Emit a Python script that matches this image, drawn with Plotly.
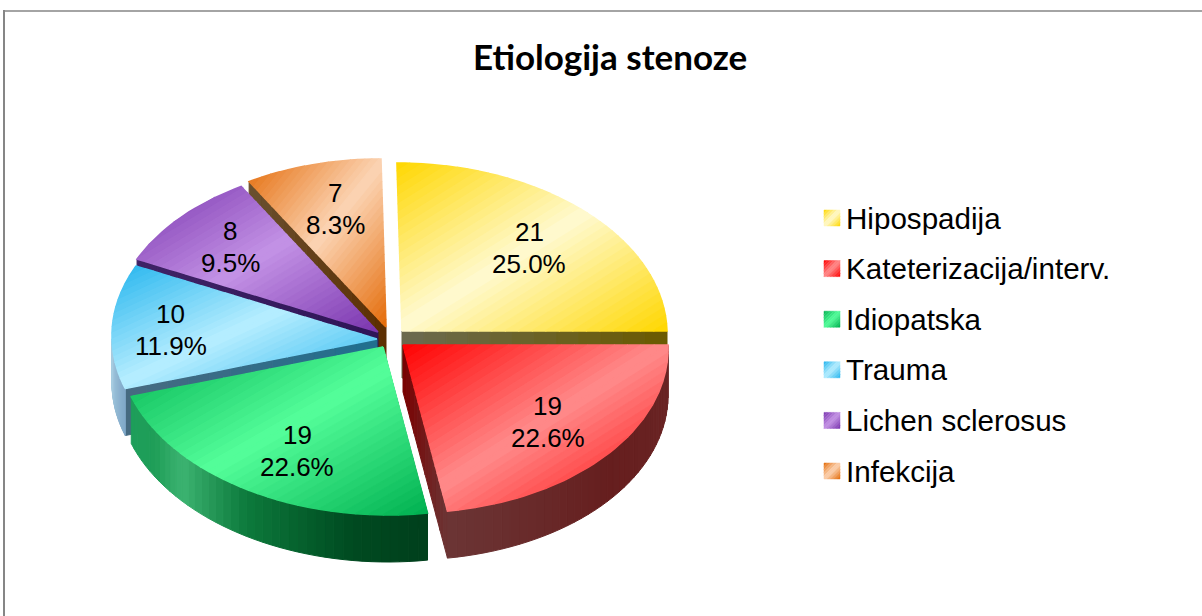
import math
import plotly.graph_objects as go

# ---------- data ----------
CATEGORIES = ["Hipospadija", "Kateterizacija/interv.", "Idiopatska", "Trauma", "Lichen sclerosus", "Infekcija"]
VALUES = [21, 19, 19, 10, 8, 7]
TITLE = "Etiologija stenoze"

# ---------- style / geometry of the 3-D projection (canvas pixels) ----------
W, H = 1202, 616
RX, RY, DEPTH, SKEW = 265, 168, 47, 0.03
APEX = [(402, 331), (403, 345), (383, 347), (377, 339), (378, 332), (386, 327)]
LABEL_F = [(0.68, 0.70), (0.72, 0.70), (0.61, 0.73), (0.78, 0.70), (0.76, 0.74), (0.74, 0.73)]
TOP_BASE = ["#FFD700", "#FF0000", "#00B050", "#25B5EE", "#7A35AE", "#E46C0A"]
TOP_LIGHT = ["#FFFAD2", "#FF8C8C", "#55FF9B", "#B8EEFF", "#C493E6", "#FCD5B5"]
EDGE_WALL = [("#6B6A50", "#6B5A00"), ("#7A0000", "#6B3535"), ("#005025", "#005025"),
             ("#1F6F8F", "#486A80"), ("#2E1457", "#3F2366"), ("#5C2E00", "#6A5030")]
OUTER_WALL = [
    [(0, "#6B5A00"), (1, "#6B5A00")],
    [(0, "#6B2626"), (0.5, "#661E1E"), (1, "#6B3535")],
    [(0, "#003F1C"), (0.2, "#004A20"), (0.5, "#0C7A3C"), (0.72, "#3CB371"), (0.85, "#1F9E58"), (1, "#1D9E5A")],
    [(0, "#7FA8C8"), (1, "#A8CCE0")],
    [(0, "#3F2366"), (1, "#3F2366")],
    [(0, "#6A5030"), (1, "#6A5030")],
]
DRAW_ORDER = [0, 5, 4, 3, 1, 2]
BANDS = 40
SEAM = 1.6
FONT = "Liberation Sans"
LEG_X, LEG_Y0, LEG_DY, LEG_S = 824, 218, 50.6, 16
LINE_GAP = 32


def rgb(h):
    return tuple(int(h[i:i + 2], 16) for i in (1, 3, 5))


def mix(stops, t):
    for (a, ca), (b, cb) in zip(stops, stops[1:]):
        if t <= b:
            f = (t - a) / (b - a) if b > a else 0
            x, y = rgb(ca), rgb(cb)
            return "rgb(%d,%d,%d)" % tuple(round(x[k] + (y[k] - x[k]) * f) for k in range(3))
    return stops[-1][1]


def clip(poly, keep):
    """Half-plane clip; keep(p) returns a signed distance, >=0 is inside."""
    out = []
    for i, p in enumerate(poly):
        q = poly[(i + 1) % len(poly)]
        dp, dq = keep(p), keep(q)
        if dp >= 0:
            out.append(p)
        if (dp >= 0) != (dq >= 0):
            f = dp / (dp - dq)
            out.append((p[0] + (q[0] - p[0]) * f, p[1] + (q[1] - p[1]) * f))
    return out


fig = go.Figure()


def add_poly(pts, color, seam=SEAM):
    xs = [p[0] for p in pts] + [pts[0][0]]
    ys = [p[1] for p in pts] + [pts[0][1]]
    fig.add_trace(go.Scatter(x=xs, y=ys, mode="lines", fill="toself", fillcolor=color,
                             line=dict(color=color, width=seam), hoverinfo="skip", showlegend=False))


def diagonal_fill(poly, base, light, bands=BANDS, seam=SEAM):
    """45-degree bounding-box linear gradient: base -> light -> base."""
    x0, x1 = min(p[0] for p in poly), max(p[0] for p in poly)
    y0, y1 = min(p[1] for p in poly), max(p[1] for p in poly)
    tf = lambda p: ((p[0] - x0) / (x1 - x0) + (p[1] - y0) / (y1 - y0)) / 2
    stops = [(0, base), (0.5, light), (1, base)]
    for b in range(bands):
        a0, a1 = b / bands, (b + 1) / bands
        piece = clip(poly, lambda p: tf(p) - a0)
        if piece:
            piece = clip(piece, lambda p: a1 - tf(p))
        if len(piece) >= 3:
            add_poly(piece, mix(stops, (a0 + a1) / 2), seam)


def project(apex, theta):
    dx, dy = RX * math.sin(theta), -RY * math.cos(theta)
    return (apex[0] + dx + SKEW * dy, apex[1] + dy)


total = sum(VALUES)
angles, acc = [], 0
for v in VALUES:
    angles.append((acc / total * 2 * math.pi, (acc + v) / total * 2 * math.pi))
    acc += v

for i in DRAW_ORDER:
    a0, a1 = angles[i]
    apex = APEX[i]
    # wall along the slice's visible cut edge
    edge_angle = a1 if i in (0, 1) else a0
    end = project(apex, edge_angle)
    c0, c1 = EDGE_WALL[i]
    for k in range(12):
        f0, f1 = k / 12, (k + 1) / 12
        p0 = (apex[0] + (end[0] - apex[0]) * f0, apex[1] + (end[1] - apex[1]) * f0)
        p1 = (apex[0] + (end[0] - apex[0]) * f1, apex[1] + (end[1] - apex[1]) * f1)
        add_poly([p0, p1, (p1[0], p1[1] + DEPTH), (p0[0], p0[1] + DEPTH)],
                 mix([(0, c0), (1, c1)], (f0 + f1) / 2), 1.0)
    # outer rim wall (only the part facing the viewer)
    lo, hi = max(a0, math.pi / 2), min(a1, 3 * math.pi / 2)
    if hi > lo:
        n = 40
        for k in range(n):
            t0 = lo + (hi - lo) * k / n
            t1 = lo + (hi - lo) * (k + 1) / n
            p0, p1 = project(apex, t0), project(apex, t1)
            add_poly([p0, p1, (p1[0], p1[1] + DEPTH), (p0[0], p0[1] + DEPTH)],
                     mix(OUTER_WALL[i], (k + 0.5) / n), 1.0)
    # top surface
    steps = max(8, int((a1 - a0) / 0.03))
    poly = [apex] + [project(apex, a0 + (a1 - a0) * k / steps) for k in range(steps + 1)]
    diagonal_fill(poly, TOP_BASE[i], TOP_LIGHT[i])

annotations = []
for i, v in enumerate(VALUES):
    mid = sum(angles[i]) / 2
    fx, fy = LABEL_F[i]
    cx = APEX[i][0] + fx * RX * math.sin(mid)
    cy = APEX[i][1] - fy * RY * math.cos(mid)
    for text, off in ((f"{v}", -LINE_GAP / 2), (f"{v / total * 100:.1f}%", LINE_GAP / 2)):
        annotations.append(dict(x=cx, y=cy + off, xref="x", yref="y", showarrow=False,
                                text=text, font=dict(family=FONT, size=26, color="#000000")))

# legend: gradient swatches with real text
for i, name in enumerate(CATEGORIES):
    yc = LEG_Y0 + i * LEG_DY
    s = LEG_S / 2
    square = [(LEG_X, yc - s), (LEG_X + LEG_S, yc - s), (LEG_X + LEG_S, yc + s), (LEG_X, yc + s)]
    diagonal_fill(square, TOP_BASE[i], TOP_LIGHT[i], bands=10, seam=0.5)
    annotations.append(dict(x=LEG_X + 20, y=yc, xref="x", yref="y", showarrow=False,
                            xanchor="left", yanchor="middle", text=name,
                            font=dict(family=FONT, size=29.6, color="#000000")))

annotations.append(dict(x=610, y=56, xref="x", yref="y", showarrow=False, text=f"<b>{TITLE}</b>",
                        font=dict(family="Lato", size=35, color="#000000")))

fig.update_layout(
    width=W, height=H, margin=dict(l=0, r=0, t=0, b=0, pad=0),
    paper_bgcolor="#FFFFFF", plot_bgcolor="#FFFFFF", showlegend=False,
    xaxis=dict(range=[0, W], visible=False, fixedrange=True),
    yaxis=dict(range=[H, 0], visible=False, fixedrange=True),
    annotations=annotations,
    shapes=[
        dict(type="line", xref="x", yref="y", x0=4, x1=4, y0=10, y1=H, line=dict(color="#868686", width=2)),
        dict(type="line", xref="x", yref="y", x0=3, x1=W, y0=11, y1=11, line=dict(color="#868686", width=1.5)),
    ],
)
fig.write_html("out.html", config={"displayModeBar": False},
               post_script="document.body.style.margin='0';document.documentElement.style.overflow='hidden';")
